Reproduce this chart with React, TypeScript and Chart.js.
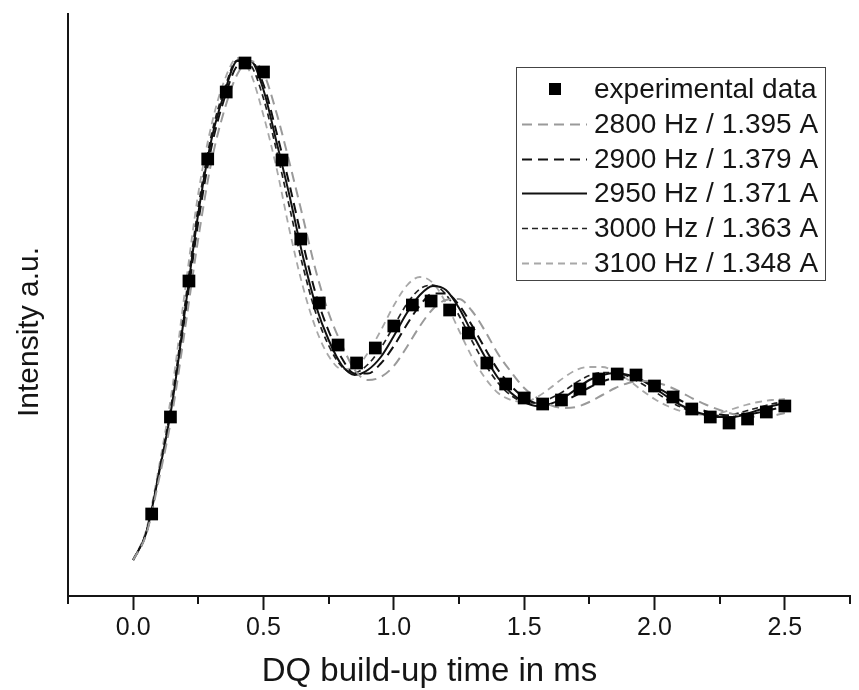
import { useEffect, useRef } from 'react';
import { Chart, registerables } from 'chart.js';

Chart.register(...registerables);

// experimental data (time in ms, intensity a.u.)
const expTimes = [
  0.071, 0.143, 0.214, 0.286, 0.357, 0.429, 0.5, 0.571, 0.643, 0.714,
  0.786, 0.857, 0.929, 1.0, 1.071, 1.143, 1.214, 1.286, 1.357, 1.429,
  1.5, 1.571, 1.643, 1.714, 1.786, 1.857, 1.929, 2.0, 2.071, 2.143,
  2.214, 2.286, 2.357, 2.429, 2.5,
];
const expIntensity = [
  0.168, 0.362, 0.634, 0.878, 1.012, 1.07, 1.052, 0.876, 0.718, 0.59,
  0.506, 0.47, 0.5, 0.544, 0.586, 0.594, 0.576, 0.53, 0.47, 0.428,
  0.4, 0.388, 0.396, 0.418, 0.438, 0.448, 0.446, 0.424, 0.402, 0.378,
  0.362, 0.35, 0.358, 0.372, 0.384,
];

// simulated build-up curves
const fitTimes = [
  0, 0.05, 0.1, 0.15, 0.2, 0.25, 0.3, 0.35, 0.4, 0.45,
  0.5, 0.55, 0.6, 0.65, 0.7, 0.75, 0.8, 0.85, 0.9, 0.95,
  1.0, 1.05, 1.1, 1.15, 1.2, 1.25, 1.3, 1.35, 1.4, 1.45,
  1.5, 1.55, 1.6, 1.65, 1.7, 1.75, 1.8, 1.85, 1.9, 1.95,
  2.0, 2.05, 2.1, 2.15, 2.2, 2.25, 2.3, 2.35, 2.4, 2.45, 2.5,
];
const fit2800 = [
  0.076, 0.127, 0.24, 0.37, 0.542, 0.72, 0.872, 0.976, 1.048, 1.074,
  1.05, 0.97, 0.87, 0.764, 0.656, 0.57, 0.507, 0.456, 0.436, 0.442,
  0.464, 0.502, 0.544, 0.578, 0.596, 0.598, 0.574, 0.534, 0.488, 0.452,
  0.42, 0.4, 0.386, 0.38, 0.382, 0.392, 0.406, 0.42, 0.43, 0.434,
  0.432, 0.424, 0.412, 0.398, 0.386, 0.376, 0.368, 0.364, 0.362, 0.364, 0.37,
];
const fit2900 = [
  0.076, 0.129, 0.248, 0.383, 0.567, 0.753, 0.901, 0.999, 1.065, 1.074,
  1.027, 0.931, 0.826, 0.712, 0.609, 0.534, 0.48, 0.449, 0.449, 0.469,
  0.504, 0.547, 0.585, 0.609, 0.609, 0.586, 0.545, 0.499, 0.456, 0.424,
  0.401, 0.389, 0.387, 0.393, 0.406, 0.421, 0.433, 0.44, 0.441, 0.435,
  0.424, 0.409, 0.395, 0.382, 0.373, 0.367, 0.364, 0.367, 0.371, 0.377, 0.383,
];
const fit2950 = [
  0.076, 0.13, 0.252, 0.39, 0.58, 0.77, 0.916, 1.01, 1.074, 1.074,
  1.016, 0.912, 0.804, 0.686, 0.586, 0.516, 0.466, 0.446, 0.456, 0.482,
  0.524, 0.57, 0.606, 0.624, 0.616, 0.58, 0.53, 0.482, 0.44, 0.41,
  0.392, 0.384, 0.388, 0.4, 0.418, 0.436, 0.446, 0.45, 0.446, 0.436,
  0.42, 0.402, 0.386, 0.374, 0.366, 0.362, 0.362, 0.368, 0.376, 0.384, 0.39,
];
const fit3000 = [
  0.076, 0.132, 0.256, 0.4, 0.593, 0.783, 0.926, 1.018, 1.076, 1.066,
  0.999, 0.895, 0.781, 0.666, 0.571, 0.505, 0.463, 0.451, 0.467, 0.5,
  0.544, 0.588, 0.618, 0.626, 0.607, 0.565, 0.514, 0.468, 0.43, 0.405,
  0.392, 0.39, 0.399, 0.413, 0.431, 0.445, 0.451, 0.451, 0.443, 0.429,
  0.413, 0.396, 0.382, 0.372, 0.366, 0.365, 0.367, 0.374, 0.381, 0.388, 0.393,
];
const fit3100 = [
  0.076, 0.136, 0.265, 0.42, 0.62, 0.81, 0.945, 1.035, 1.08, 1.05,
  0.965, 0.86, 0.735, 0.625, 0.54, 0.484, 0.458, 0.46, 0.49, 0.535,
  0.585, 0.625, 0.642, 0.63, 0.59, 0.535, 0.482, 0.44, 0.41, 0.396,
  0.392, 0.402, 0.42, 0.44, 0.456, 0.462, 0.462, 0.452, 0.436, 0.416,
  0.398, 0.384, 0.374, 0.368, 0.366, 0.37, 0.378, 0.386, 0.392, 0.396, 0.398,
];

const seriesLabels = [
  'experimental data',
  '2800 Hz / 1.395 A',
  '2900 Hz / 1.379 A',
  '2950 Hz / 1.371 A',
  '3000 Hz / 1.363 A',
  '3100 Hz / 1.348 A',
];

const xMajorTicks = ['0.0', '0.5', '1.0', '1.5', '2.0', '2.5'];
const xTitle = 'DQ build-up time in ms';
const yTitle = 'Intensity a.u.';

const FONT = '"Liberation Sans", Arial, Helvetica, sans-serif';
const INK = '#151515';

const isMajor = (v: number) => Math.abs(v * 2 - Math.round(v * 2)) < 1e-6;

const toPoints = (xs: number[], ys: number[]) => xs.map((x, i) => ({ x, y: ys[i] }));

const decorPlugin = {
  id: 'decor',
  afterDraw(chart: any) {
    const ctx = chart.ctx as CanvasRenderingContext2D;
    const xs = chart.scales.x;
    const area = chart.chartArea;
    ctx.save();
    // minor ticks
    ctx.strokeStyle = INK;
    ctx.lineWidth = 2;
    xs.ticks.forEach((t: any) => {
      if (!isMajor(t.value)) {
        const px = Math.round(xs.getPixelForValue(t.value));
        ctx.beginPath();
        ctx.moveTo(px, area.bottom);
        ctx.lineTo(px, area.bottom + 8);
        ctx.stroke();
      }
    });
    // axis titles
    ctx.fillStyle = INK;
    ctx.textAlign = 'center';
    ctx.textBaseline = 'middle';
    ctx.font = `33px ${FONT}`;
    ctx.fillText(xTitle, chart.width / 2, 672);
    ctx.save();
    ctx.font = `30px ${FONT}`;
    ctx.translate(30, 332);
    ctx.rotate(-Math.PI / 2);
    ctx.fillText(yTitle, 0, 0);
    ctx.restore();

    // legend box
    const left = 516;
    const top = 67;
    const w = 309;
    const h = 213;
    ctx.fillStyle = '#ffffff';
    ctx.fillRect(left, top, w, h);
    ctx.strokeStyle = '#444';
    ctx.lineWidth = 1;
    ctx.strokeRect(left + 0.5, top + 0.5, w, h);
    ctx.font = `28px ${FONT}`;
    ctx.textAlign = 'left';
    ctx.textBaseline = 'middle';
    chart.data.datasets.forEach((ds: any, i: number) => {
      const y = Math.round(89 + i * 34.8);
      if (ds.showLine === false) {
        ctx.fillStyle = '#000';
        ctx.fillRect(549, y - 6, 12, 12);
      } else {
        ctx.save();
        ctx.strokeStyle = ds.borderColor;
        ctx.lineWidth = ds.borderWidth;
        ctx.setLineDash(ds.borderDash || []);
        ctx.beginPath();
        ctx.moveTo(522, y + 0.5);
        ctx.lineTo(587, y + 0.5);
        ctx.stroke();
        ctx.restore();
      }
      ctx.fillStyle = INK;
      ctx.fillText(ds.label, 594, y + 1);
    });
    ctx.restore();
  },
};

export default function App() {
  const ref = useRef<HTMLCanvasElement | null>(null);

  useEffect(() => {
    if (!ref.current) return;
    const lineDs = (label: string, ys: number[], color: string, width: number, dash: number[]) => ({
      label,
      data: toPoints(fitTimes, ys),
      showLine: true,
      borderColor: color,
      backgroundColor: color,
      borderWidth: width,
      borderDash: dash,
      pointRadius: 0,
      cubicInterpolationMode: 'monotone' as const,
      fill: false,
    });
    const chart = new Chart(ref.current, {
      type: 'scatter',
      data: {
        datasets: [
          {
            label: seriesLabels[0],
            data: toPoints(expTimes, expIntensity),
            showLine: false,
            pointStyle: 'rect',
            pointRadius: 9,
            pointBackgroundColor: '#000',
            pointBorderColor: '#000',
            pointBorderWidth: 0,
          } as any,
          lineDs(seriesLabels[1], fit2800, '#9a9a9a', 2, [10, 6]),
          lineDs(seriesLabels[2], fit2900, '#111111', 2, [10, 6]),
          lineDs(seriesLabels[3], fit2950, '#111111', 2, []),
          lineDs(seriesLabels[4], fit3000, '#222222', 1.7, [6, 4]),
          lineDs(seriesLabels[5], fit3100, '#a8a8a8', 1.8, [7, 5]),
        ],
      },
      options: {
        responsive: false,
        animation: false,
        devicePixelRatio: 1,
        layout: { padding: { top: 14, right: 0, left: 0, bottom: 0 } },
        plugins: {
          legend: { display: false },
          tooltip: { enabled: false },
        },
        scales: {
          x: {
            type: 'linear',
            min: -0.25,
            max: 2.75,
            afterFit: (s: any) => {
              s.height = 94;
            },
            ticks: {
              stepSize: 0.25,
              autoSkip: false,
              maxRotation: 0,
              padding: 3,
              color: INK,
              font: { family: FONT, size: 25 },
              callback: (v: any) => {
                const n = Number(v);
                if (!isMajor(n)) return '';
                const idx = Math.round(n * 2);
                return xMajorTicks[idx] ?? '';
              },
            },
            grid: {
              drawOnChartArea: false,
              drawTicks: true,
              tickLength: 14,
              tickWidth: 2,
              tickColor: (c: any) => (c.tick && isMajor(c.tick.value) ? INK : 'rgba(0,0,0,0)'),
            },
            border: { display: true, color: INK, width: 2 },
          },
          y: {
            type: 'linear',
            min: 0.004,
            max: 1.168,
            afterFit: (s: any) => {
              s.width = 68;
            },
            ticks: { display: false },
            grid: { drawOnChartArea: false, drawTicks: false },
            border: { display: true, color: INK, width: 2 },
          },
        },
      },
      plugins: [decorPlugin],
    });
    return () => chart.destroy();
  }, []);

  return (
    <div style={{ position: 'absolute', left: 0, top: 0, width: 859, height: 690, background: '#fff' }}>
      <canvas ref={ref} width={859} height={690} />
    </div>
  );
}
